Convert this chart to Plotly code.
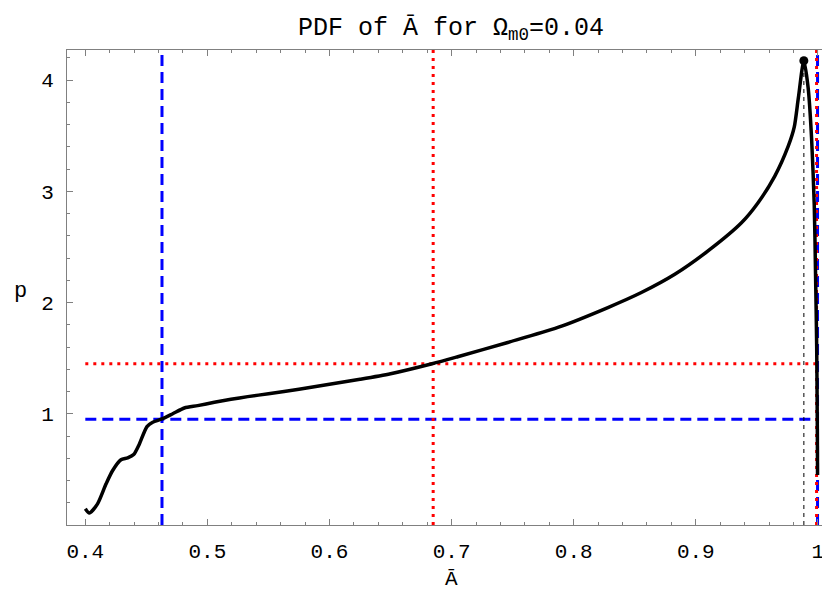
import plotly.graph_objects as go

# PDF curve
a_vals = [0.400, 0.4033, 0.410, 0.417, 0.4224, 0.4292, 0.4347, 0.4396, 0.4443,
          0.4505, 0.4552, 0.4628, 0.4716, 0.4811, 0.492, 0.5057, 0.5193, 0.533,
          0.55, 0.575, 0.60, 0.625, 0.65, 0.684, 0.705, 0.746, 0.787, 0.828,
          0.8554, 0.8828, 0.910, 0.9374, 0.951, 0.9647, 0.9757, 0.9806, 0.984,
          0.9885, 0.992, 0.9948, 0.997, 0.998, 0.999, 0.9995, 0.9997]
p_vals = [0.146, 0.108, 0.19, 0.37, 0.49, 0.586, 0.604, 0.634, 0.729,
          0.885, 0.924, 0.953, 1.0, 1.052, 1.073, 1.103, 1.13, 1.154,
          1.18, 1.22, 1.265, 1.31, 1.36, 1.45, 1.513, 1.641, 1.776, 1.955,
          2.09, 2.254, 2.464, 2.717, 2.897, 3.136, 3.405, 3.576, 3.84,
          4.173, 3.93, 3.48, 2.88, 2.3, 1.6, 0.9, 0.45]

peak_a, peak_p = 0.9885, 4.173
mean_a, mean_p = 0.6849, 1.45      # red dotted
lo_a, lo_p = 0.4628, 0.95          # blue dashed
hi_red_a = 0.9989
hi_blue_a = 0.9997

x_ticks = [0.4, 0.5, 0.6, 0.7, 0.8, 0.9, 1.0]
x_labels = ["0.4", "0.5", "0.6", "0.7", "0.8", "0.9", "1"]
y_ticks = [1, 2, 3, 4]

y_lo, y_hi = 0.0, 4.27
FONT = "Liberation Mono, Courier New, monospace"

fig = go.Figure()

# blue dashed lines
fig.add_trace(go.Scatter(x=[lo_a, lo_a], y=[y_lo, y_hi], mode="lines",
                         line=dict(color="#0000ff", width=3, dash="11px,6px")))
fig.add_trace(go.Scatter(x=[0.4, hi_blue_a], y=[lo_p, lo_p], mode="lines",
                         line=dict(color="#0000ff", width=3, dash="11px,6px")))
fig.add_trace(go.Scatter(x=[hi_blue_a, hi_blue_a], y=[y_lo, y_hi], mode="lines",
                         line=dict(color="#0000ff", width=3, dash="11px,6px")))

# red dotted lines
fig.add_trace(go.Scatter(x=[mean_a, mean_a], y=[y_lo, y_hi], mode="lines",
                         line=dict(color="#ff0000", width=3, dash="3px,5px")))
fig.add_trace(go.Scatter(x=[0.4, hi_red_a], y=[mean_p, mean_p], mode="lines",
                         line=dict(color="#ff0000", width=3, dash="3px,5px")))
fig.add_trace(go.Scatter(x=[hi_red_a, hi_red_a], y=[y_lo, y_hi], mode="lines",
                         line=dict(color="#ff0000", width=3, dash="3px,5px")))

# peak marker line
fig.add_trace(go.Scatter(x=[peak_a, peak_a], y=[y_lo, peak_p], mode="lines",
                         line=dict(color="black", width=1, dash="4px,4px")))

# PDF curve
fig.add_trace(go.Scatter(x=a_vals, y=p_vals, mode="lines",
                         line=dict(color="black", width=3.5, shape="spline",
                                   smoothing=0.7)))
fig.add_trace(go.Scatter(x=[peak_a], y=[peak_p], mode="markers",
                         marker=dict(color="black", size=9)))

axis_common = dict(
    showgrid=False, zeroline=False, showline=True, linecolor="#808080",
    linewidth=1, mirror="allticks", ticks="inside", tickcolor="#808080",
    ticklen=6, tickwidth=1, automargin=False,
    tickfont=dict(family=FONT, size=21, color="black"),
)

fig.update_xaxes(range=[0.385, 1.014], tickvals=x_ticks, ticktext=x_labels,
                 ticklabelstandoff=7,
                 minor=dict(dtick=0.02, tick0=0.4, ticks="inside", ticklen=3,
                            tickcolor="#808080"),
                 **axis_common)
fig.update_yaxes(range=[y_lo, y_hi], tickvals=y_ticks, ticklabelstandoff=8,
                 minor=dict(dtick=0.2, tick0=0, ticks="inside", ticklen=3,
                            tickcolor="#808080"),
                 **axis_common)

fig.add_annotation(text="Ā", x=0.5, y=-0.115, xref="paper", yref="paper",
                   showarrow=False, xanchor="center", yanchor="middle",
                   font=dict(family=FONT, size=21, color="black"))
fig.add_annotation(text="p", x=-0.061, y=0.4926, xref="paper", yref="paper",
                   showarrow=False, xanchor="center", yanchor="middle",
                   font=dict(family=FONT, size=22, color="black"))

fig.update_layout(
    title=dict(text="PDF of Ā for Ω<sub>m0</sub>=0.04", x=0.5, xref="paper",
               y=0.97, yanchor="middle",
               font=dict(family=FONT, size=25, color="black")),
    width=830, height=592,
    margin=dict(l=59, r=3, t=42, b=75, autoexpand=False),
    paper_bgcolor="white", plot_bgcolor="white",
    showlegend=False,
)

fig.write_html("out.html")
